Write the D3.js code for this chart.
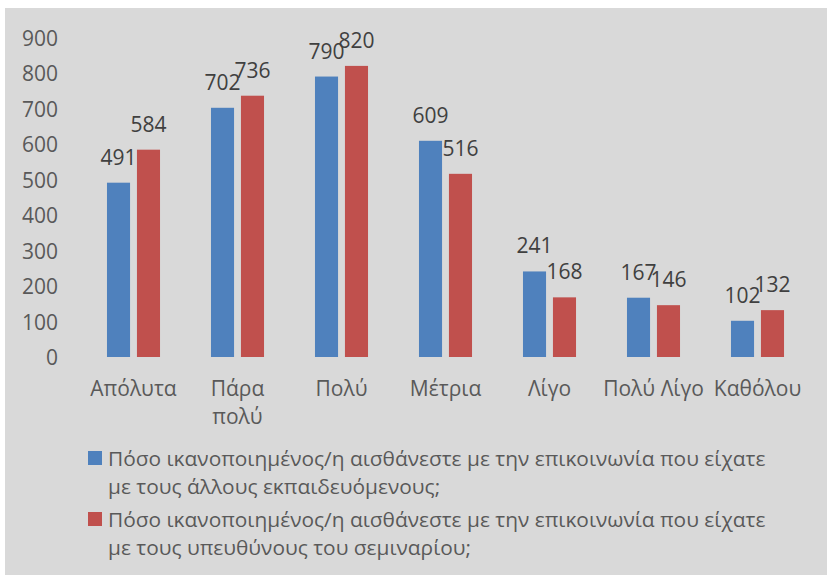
<!DOCTYPE html>
<html>
<head>
<meta charset="utf-8">
<script src="https://d3js.org/d3.v7.min.js"></script>
<style>
  body { margin: 0; background: #fff; }
  text { font-family: "Open Sans", "DejaVu Sans", sans-serif; }
</style>
</head>
<body>
<svg id="chart" width="827" height="575"></svg>
<script>
// data
var categories = ["Απόλυτα", "Πάρα πολύ", "Πολύ", "Μέτρια", "Λίγο", "Πολύ Λίγο", "Καθόλου"];
var catLabels = [["Απόλυτα"], ["Πάρα", "πολύ"], ["Πολύ"], ["Μέτρια"], ["Λίγο"], ["Πολύ Λίγο"], ["Καθόλου"]];
var peers = [491, 702, 790, 609, 241, 167, 102];
var trainers = [584, 736, 820, 516, 168, 146, 132];
var seriesNames = ["peers", "trainers"];
var yTicks = [0, 100, 200, 300, 400, 500, 600, 700, 800, 900];
var legendLines = [
  ["Πόσο ικανοποιημένος/η αισθάνεστε με την επικοινωνία που είχατε", "με τους άλλους εκπαιδευόμενους;"],
  ["Πόσο ικανοποιημένος/η αισθάνεστε με την επικοινωνία που είχατε", "με τους υπευθύνους του σεμιναρίου;"]
];
var colors = ["#4f81bd", "#c0504d"];

var svg = d3.select("#chart");

// gray chart area
svg.append("rect").attr("x", 5).attr("y", 8).attr("width", 822).attr("height", 567).attr("fill", "#d9d9d9");

var y = d3.scaleLinear().domain([0, 900]).range([357, 37.5]);
var x0 = d3.scaleBand().domain(categories).range([81.5, 809.5]).paddingInner(0.49).paddingOuter(0.245);
var x1 = d3.scaleBand().domain(seriesNames).range([0, x0.bandwidth()]).paddingInner(0.23);

var rows = categories.map(function(c, i) {
  return { cat: c, vals: [{ s: "peers", v: peers[i] }, { s: "trainers", v: trainers[i] }] };
});

// y axis labels
svg.append("g").selectAll("text").data(yTicks).enter().append("text")
  .attr("x", 58).attr("y", function(d) { return y(d); })
  .attr("dy", "0.4em")
  .attr("text-anchor", "end")
  .attr("font-size", 21).attr("fill", "#595959")
  .text(function(d) { return d; });

// bars
var groups = svg.append("g").selectAll("g").data(rows).enter().append("g")
  .attr("transform", function(d) { return "translate(" + x0(d.cat) + ",0)"; });

groups.selectAll("rect").data(function(d) { return d.vals; }).enter().append("rect")
  .attr("x", function(d) { return x1(d.s); })
  .attr("y", function(d) { return y(d.v); })
  .attr("width", x1.bandwidth())
  .attr("height", function(d) { return y(0) - y(d.v); })
  .attr("fill", function(d, i) { return colors[i]; });

groups.selectAll("text").data(function(d) { return d.vals; }).enter().append("text")
  .attr("x", function(d) { return x1(d.s) + x1.bandwidth() / 2; })
  .attr("y", function(d) { return y(d.v) - 18; })
  .attr("text-anchor", "middle")
  .attr("font-size", 21).attr("fill", "#404040")
  .text(function(d) { return d.v; });

// category labels
var catG = svg.append("g").selectAll("text").data(categories).enter().append("text")
  .attr("x", function(d) { return x0(d) + x0.bandwidth() / 2; })
  .attr("y", 396)
  .attr("text-anchor", "middle")
  .attr("font-size", 21).attr("fill", "#595959");
catG.each(function(d, i) {
  var t = d3.select(this);
  catLabels[i].forEach(function(line, j) {
    t.append("tspan").attr("x", x0(d) + x0.bandwidth() / 2).attr("dy", j ? 28 : 0).text(line);
  });
});

// legend
var legendTop = [451, 512];
var legendG = svg.append("g");
legendLines.forEach(function(lines, i) {
  legendG.append("rect").attr("x", 88).attr("y", legendTop[i]).attr("width", 14).attr("height", 14).attr("fill", colors[i]);
  lines.forEach(function(line, j) {
    legendG.append("text")
      .attr("class", "leg")
      .attr("x", 0).attr("y", legendTop[i] + 15 + j * 28)
      .attr("font-size", 20).attr("fill", "#595959")
      .text(line);
  });
});
// fit legend text to the reference width (line 1 from 108 to 766)
var w = legendG.select("text.leg").node().getComputedTextLength();
var sx = 658 / w;
legendG.selectAll("text.leg").attr("transform", "translate(108,0) scale(" + sx + ",1)");
</script>
</body>
</html>
